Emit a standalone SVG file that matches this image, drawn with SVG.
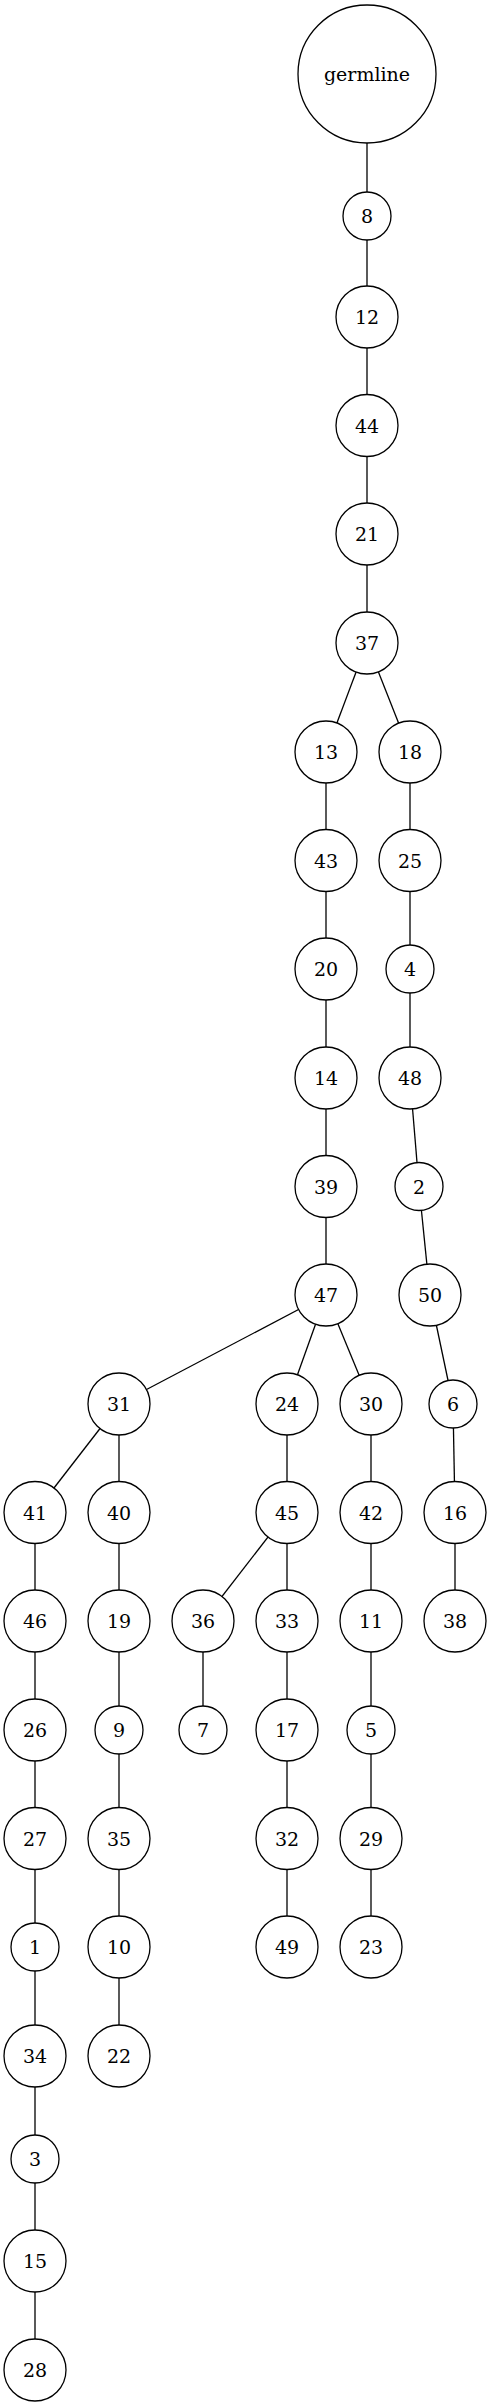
<svg xmlns="http://www.w3.org/2000/svg" width="491" height="2406" viewBox="0 0 491 2406">
<style>
.e{stroke:#000;stroke-width:1.3;fill:none}
.n circle{fill:#fff;stroke:#000;stroke-width:1.3}
.n text{font-family:"DejaVu Serif","Liberation Serif",serif;font-size:19px;text-anchor:middle;fill:#000}
</style>
<rect width="491" height="2406" fill="#fff"/>
<g id="edges">
<line class="e" x1="367" y1="74" x2="367" y2="216"/>
<line class="e" x1="367" y1="216" x2="367" y2="317"/>
<line class="e" x1="367" y1="317" x2="367" y2="425.5"/>
<line class="e" x1="367" y1="425.5" x2="367" y2="534"/>
<line class="e" x1="367" y1="534" x2="367" y2="643"/>
<line class="e" x1="367" y1="643" x2="326" y2="752"/>
<line class="e" x1="367" y1="643" x2="410" y2="752"/>
<line class="e" x1="326" y1="752" x2="326" y2="860.5"/>
<line class="e" x1="326" y1="860.5" x2="326" y2="969"/>
<line class="e" x1="326" y1="969" x2="326" y2="1078"/>
<line class="e" x1="326" y1="1078" x2="326" y2="1186.5"/>
<line class="e" x1="326" y1="1186.5" x2="326" y2="1295"/>
<line class="e" x1="326" y1="1295" x2="119" y2="1404"/>
<line class="e" x1="326" y1="1295" x2="287" y2="1404"/>
<line class="e" x1="326" y1="1295" x2="371" y2="1404"/>
<line class="e" x1="119" y1="1404" x2="35" y2="1512.5"/>
<line class="e" x1="119" y1="1404" x2="119" y2="1512.5"/>
<line class="e" x1="35" y1="1512.5" x2="35" y2="1621"/>
<line class="e" x1="35" y1="1621" x2="35" y2="1730"/>
<line class="e" x1="35" y1="1730" x2="35" y2="1838.5"/>
<line class="e" x1="35" y1="1838.5" x2="35" y2="1947"/>
<line class="e" x1="35" y1="1947" x2="35" y2="2056"/>
<line class="e" x1="35" y1="2056" x2="35" y2="2159"/>
<line class="e" x1="35" y1="2159" x2="35" y2="2261"/>
<line class="e" x1="35" y1="2261" x2="35" y2="2370"/>
<line class="e" x1="119" y1="1512.5" x2="119" y2="1621"/>
<line class="e" x1="119" y1="1621" x2="119" y2="1730"/>
<line class="e" x1="119" y1="1730" x2="119" y2="1838.5"/>
<line class="e" x1="119" y1="1838.5" x2="119" y2="1947"/>
<line class="e" x1="119" y1="1947" x2="119" y2="2056"/>
<line class="e" x1="287" y1="1404" x2="287" y2="1512.5"/>
<line class="e" x1="287" y1="1512.5" x2="203" y2="1621"/>
<line class="e" x1="287" y1="1512.5" x2="287" y2="1621"/>
<line class="e" x1="203" y1="1621" x2="203" y2="1730"/>
<line class="e" x1="287" y1="1621" x2="287" y2="1730"/>
<line class="e" x1="287" y1="1730" x2="287" y2="1838.5"/>
<line class="e" x1="287" y1="1838.5" x2="287" y2="1947"/>
<line class="e" x1="371" y1="1404" x2="371" y2="1512.5"/>
<line class="e" x1="371" y1="1512.5" x2="371" y2="1621"/>
<line class="e" x1="371" y1="1621" x2="371" y2="1730"/>
<line class="e" x1="371" y1="1730" x2="371" y2="1838.5"/>
<line class="e" x1="371" y1="1838.5" x2="371" y2="1947"/>
<line class="e" x1="410" y1="752" x2="410" y2="860.5"/>
<line class="e" x1="410" y1="860.5" x2="410" y2="969"/>
<line class="e" x1="410" y1="969" x2="410" y2="1078"/>
<line class="e" x1="410" y1="1078" x2="419" y2="1186.5"/>
<line class="e" x1="419" y1="1186.5" x2="430" y2="1295"/>
<line class="e" x1="430" y1="1295" x2="453" y2="1404"/>
<line class="e" x1="453" y1="1404" x2="455" y2="1512.5"/>
<line class="e" x1="455" y1="1512.5" x2="455" y2="1621"/>
</g>
<g id="germline" class="n"><circle cx="367" cy="74" r="69"/><text x="367" y="81">germline</text></g>
<g id="n8" class="n"><circle cx="367" cy="216" r="24"/><text x="367" y="223">8</text></g>
<g id="n12" class="n"><circle cx="367" cy="317" r="31"/><text x="367" y="324">12</text></g>
<g id="n44" class="n"><circle cx="367" cy="425.5" r="31"/><text x="367" y="432.5">44</text></g>
<g id="n21" class="n"><circle cx="367" cy="534" r="31"/><text x="367" y="541">21</text></g>
<g id="n37" class="n"><circle cx="367" cy="643" r="31"/><text x="367" y="650">37</text></g>
<g id="n13" class="n"><circle cx="326" cy="752" r="31"/><text x="326" y="759">13</text></g>
<g id="n18" class="n"><circle cx="410" cy="752" r="31"/><text x="410" y="759">18</text></g>
<g id="n43" class="n"><circle cx="326" cy="860.5" r="31"/><text x="326" y="867.5">43</text></g>
<g id="n25" class="n"><circle cx="410" cy="860.5" r="31"/><text x="410" y="867.5">25</text></g>
<g id="n20" class="n"><circle cx="326" cy="969" r="31"/><text x="326" y="976">20</text></g>
<g id="n4" class="n"><circle cx="410" cy="969" r="24"/><text x="410" y="976">4</text></g>
<g id="n14" class="n"><circle cx="326" cy="1078" r="31"/><text x="326" y="1085">14</text></g>
<g id="n48" class="n"><circle cx="410" cy="1078" r="31"/><text x="410" y="1085">48</text></g>
<g id="n39" class="n"><circle cx="326" cy="1186.5" r="31"/><text x="326" y="1193.5">39</text></g>
<g id="n2" class="n"><circle cx="419" cy="1186.5" r="24"/><text x="419" y="1193.5">2</text></g>
<g id="n47" class="n"><circle cx="326" cy="1295" r="31"/><text x="326" y="1302">47</text></g>
<g id="n50" class="n"><circle cx="430" cy="1295" r="31"/><text x="430" y="1302">50</text></g>
<g id="n31" class="n"><circle cx="119" cy="1404" r="31"/><text x="119" y="1411">31</text></g>
<g id="n24" class="n"><circle cx="287" cy="1404" r="31"/><text x="287" y="1411">24</text></g>
<g id="n30" class="n"><circle cx="371" cy="1404" r="31"/><text x="371" y="1411">30</text></g>
<g id="n6" class="n"><circle cx="453" cy="1404" r="24"/><text x="453" y="1411">6</text></g>
<g id="n41" class="n"><circle cx="35" cy="1512.5" r="31"/><text x="35" y="1519.5">41</text></g>
<g id="n40" class="n"><circle cx="119" cy="1512.5" r="31"/><text x="119" y="1519.5">40</text></g>
<g id="n45" class="n"><circle cx="287" cy="1512.5" r="31"/><text x="287" y="1519.5">45</text></g>
<g id="n42" class="n"><circle cx="371" cy="1512.5" r="31"/><text x="371" y="1519.5">42</text></g>
<g id="n16" class="n"><circle cx="455" cy="1512.5" r="31"/><text x="455" y="1519.5">16</text></g>
<g id="n46" class="n"><circle cx="35" cy="1621" r="31"/><text x="35" y="1628">46</text></g>
<g id="n19" class="n"><circle cx="119" cy="1621" r="31"/><text x="119" y="1628">19</text></g>
<g id="n36" class="n"><circle cx="203" cy="1621" r="31"/><text x="203" y="1628">36</text></g>
<g id="n33" class="n"><circle cx="287" cy="1621" r="31"/><text x="287" y="1628">33</text></g>
<g id="n11" class="n"><circle cx="371" cy="1621" r="31"/><text x="371" y="1628">11</text></g>
<g id="n38" class="n"><circle cx="455" cy="1621" r="31"/><text x="455" y="1628">38</text></g>
<g id="n26" class="n"><circle cx="35" cy="1730" r="31"/><text x="35" y="1737">26</text></g>
<g id="n9" class="n"><circle cx="119" cy="1730" r="24"/><text x="119" y="1737">9</text></g>
<g id="n7" class="n"><circle cx="203" cy="1730" r="24"/><text x="203" y="1737">7</text></g>
<g id="n17" class="n"><circle cx="287" cy="1730" r="31"/><text x="287" y="1737">17</text></g>
<g id="n5" class="n"><circle cx="371" cy="1730" r="24"/><text x="371" y="1737">5</text></g>
<g id="n27" class="n"><circle cx="35" cy="1838.5" r="31"/><text x="35" y="1845.5">27</text></g>
<g id="n35" class="n"><circle cx="119" cy="1838.5" r="31"/><text x="119" y="1845.5">35</text></g>
<g id="n32" class="n"><circle cx="287" cy="1838.5" r="31"/><text x="287" y="1845.5">32</text></g>
<g id="n29" class="n"><circle cx="371" cy="1838.5" r="31"/><text x="371" y="1845.5">29</text></g>
<g id="n1" class="n"><circle cx="35" cy="1947" r="24"/><text x="35" y="1954">1</text></g>
<g id="n10" class="n"><circle cx="119" cy="1947" r="31"/><text x="119" y="1954">10</text></g>
<g id="n49" class="n"><circle cx="287" cy="1947" r="31"/><text x="287" y="1954">49</text></g>
<g id="n23" class="n"><circle cx="371" cy="1947" r="31"/><text x="371" y="1954">23</text></g>
<g id="n34" class="n"><circle cx="35" cy="2056" r="31"/><text x="35" y="2063">34</text></g>
<g id="n22" class="n"><circle cx="119" cy="2056" r="31"/><text x="119" y="2063">22</text></g>
<g id="n3" class="n"><circle cx="35" cy="2159" r="24"/><text x="35" y="2166">3</text></g>
<g id="n15" class="n"><circle cx="35" cy="2261" r="31"/><text x="35" y="2268">15</text></g>
<g id="n28" class="n"><circle cx="35" cy="2370" r="31"/><text x="35" y="2377">28</text></g>
</svg>
